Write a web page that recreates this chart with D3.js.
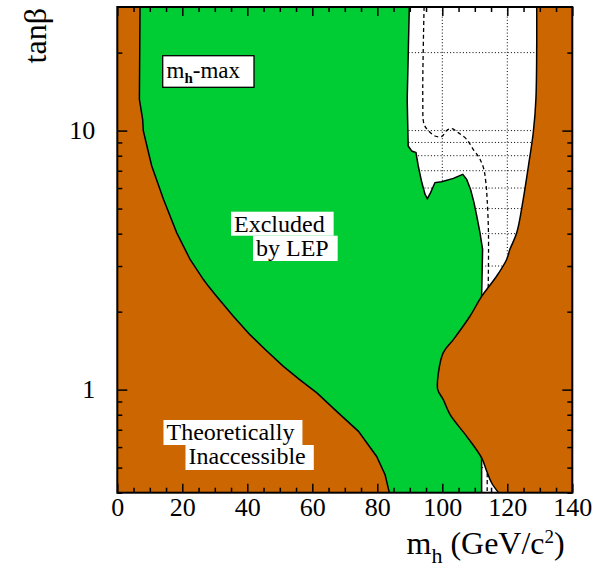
<!DOCTYPE html>
<html><head><meta charset="utf-8">
<script src="https://cdn.jsdelivr.net/npm/d3@7"></script>
<style>
body{margin:0;background:#fff}
svg{display:block}
text{font-family:"Liberation Serif","Times New Roman",serif;fill:#000}
</style>
</head><body>
<svg id="c" width="605" height="571"></svg>
<script>
// ---- data (mh in GeV/c^2, tanβ) ----
const xDomain = [0, 140];
const yDomain = [0.4, 30];
const xMajorTicks = [0, 20, 40, 60, 80, 100, 120, 140];
const xMinorTicks = [5, 10, 15, 25, 30, 35, 45, 50, 55, 65, 70, 75, 85, 90, 95, 105, 110, 115, 125, 130, 135];
const yMajorTicks = [1, 10];
const yMinorTicks = [0.4, 0.5, 0.6, 0.7, 0.8, 0.9, 2, 3, 4, 5, 6, 7, 8, 9, 20];
const xGrid = [20, 40, 60, 80, 100, 120];
const yGrid = [0.5, 0.6, 0.7, 0.8, 0.9, 1, 2, 3, 4, 5, 6, 7, 8, 9, 10, 20];

// theoretically inaccessible, low-mh boundary (top -> bottom)
const lowTheoryMh = [7.0, 6.8, 7.8, 8.0, 9.35, 10.6, 14.2, 18.3, 22.4, 26.5, 28.0, 30.6, 35.7, 40.8, 46.0, 51.1, 56.2, 61.4, 68.0, 74.2, 79.8, 82.4, 83.7];
const lowTheoryTb = [30, 13.2, 11.06, 10.0, 8.47, 7.30, 5.43, 4.03, 3.18, 2.66, 2.51, 2.29, 1.92, 1.63, 1.41, 1.23, 1.09, 0.971, 0.813, 0.690, 0.552, 0.469, 0.4];

// observed LEP exclusion edge (top -> bottom)
const observedMh = [89.85, 89.2, 89.5, 90.6, 91.9, 92.6, 93.7, 94.7, 95.4, 96.4, 97.75, 99.8, 103.4, 106.3, 107.5, 108.7, 109.75, 110.6, 111.6, 112.4, 112.1, 112.1];
const observedTb = [30, 13.2, 8.72, 8.34, 8.22, 7.30, 6.30, 5.67, 5.46, 5.76, 6.30, 6.35, 6.54, 6.78, 6.48, 5.93, 5.27, 4.68, 4.03, 3.48, 2.29, 0.4];

// theoretically inaccessible, high-mh boundary (top -> bottom)
const highTheoryMh = [129.05, 128.8, 128.0, 126.5, 124.9, 122.9, 120.8, 119.8, 116.7, 112.1, 108.5, 103.4, 100.3, 98.8, 98.6, 100.3, 102.4, 107.5, 112.1, 113.7, 115.2, 117.3];
const highTheoryTb = [30, 13.2, 9.85, 7.30, 5.43, 4.03, 3.48, 3.18, 2.74, 2.29, 1.92, 1.56, 1.39, 1.16, 1.0, 0.915, 0.80, 0.66, 0.545, 0.483, 0.436, 0.4];

// expected exclusion (dashed)
const expectedMh = [94.4, 94.0, 94.4, 95.7, 97.75, 99.8, 101.35, 102.9, 104.9, 107.5, 109.5, 111.6, 112.8, 113.4, 113.8, 114.2, 114.1, 113.8];
const expectedTb = [30, 13.2, 10.57, 10.0, 9.53, 9.48, 10.0, 10.18, 9.82, 9.25, 8.47, 7.75, 7.08, 6.30, 5.42, 4.04, 2.2, 0.4];

const zip = (a, b) => a.map((v, i) => [v, b[i]]);
const lowTheory = zip(lowTheoryMh, lowTheoryTb);
const observed = zip(observedMh, observedTb);
const highTheory = zip(highTheoryMh, highTheoryTb);
const expected = zip(expectedMh, expectedTb);

// ---- layout ----
const L = 117.3, R = 572.3, T = 7, B = 492.7;
const GREEN = "#00cc33", ORANGE = "#cc6600";

const svg = d3.select("#c");
const x = d3.scaleLinear().domain(xDomain).range([L, R]);
const y = d3.scaleLog().domain(yDomain).range([B, T]);
const line = d3.line().x(d => x(d[0])).y(d => y(d[1]));
const smooth = d3.line().x(d => x(d[0])).y(d => y(d[1])).curve(d3.curveCatmullRom.alpha(0.5));

svg.append("defs").append("clipPath").attr("id", "clip")
  .append("rect").attr("x", L).attr("y", T).attr("width", R - L).attr("height", B - T);

const g = svg.append("g").attr("clip-path", "url(#clip)");

// grid (dotted, lies under the fills)
g.selectAll(".vg").data(xGrid).join("line")
  .attr("x1", d => x(d)).attr("x2", d => x(d)).attr("y1", T).attr("y2", B)
  .attr("stroke", "#000").attr("stroke-width", 1).attr("stroke-dasharray", "1,2.2");
g.selectAll(".hg").data(yGrid).join("line")
  .attr("y1", d => y(d)).attr("y2", d => y(d)).attr("x1", L).attr("x2", R)
  .attr("stroke", "#000").attr("stroke-width", 1).attr("stroke-dasharray", "1,2.2");

// expected limit (dashed)
g.append("path").attr("d", smooth(expected)).attr("fill", "none")
  .attr("stroke", "#000").attr("stroke-width", 1.3).attr("stroke-dasharray", "4,3");

// green excluded region
const greenPoly = lowTheory.concat(observed.slice().reverse());
g.append("path").attr("d", line(greenPoly) + "Z").attr("fill", GREEN).attr("stroke", "none");
g.append("path").attr("d", line(observed)).attr("fill", "none").attr("stroke", "#000").attr("stroke-width", 1.5);

// orange theoretically inaccessible regions
const leftPoly = [[xDomain[0], yDomain[1]]].concat(lowTheory, [[xDomain[0], yDomain[0]]]);
g.append("path").attr("d", line(leftPoly) + "Z").attr("fill", ORANGE);
g.append("path").attr("d", line(lowTheory)).attr("fill", "none").attr("stroke", "#000").attr("stroke-width", 1.5);

const highPath = smooth(highTheory);
g.append("path").attr("d", highPath + `L${x(xDomain[1])},${y(yDomain[0])}L${x(xDomain[1])},${y(yDomain[1])}Z`).attr("fill", ORANGE);
g.append("path").attr("d", highPath).attr("fill", "none").attr("stroke", "#000").attr("stroke-width", 1.5);

// ---- axes ----
function styleAxis(sel) {
  sel.select(".domain").remove();
  sel.selectAll(".tick line").attr("stroke", "#000").attr("stroke-width", 1.5);
  sel.selectAll(".tick text").style("font-family", '"Liberation Serif", serif').style("font-size", "26px").attr("fill", "#000");
}
svg.append("g").attr("transform", `translate(0,${B})`)
  .call(d3.axisBottom(x).tickValues(xMajorTicks).tickSizeInner(-9).tickSizeOuter(0).tickPadding(5).tickFormat(d3.format("d")))
  .call(styleAxis);
svg.append("g").attr("transform", `translate(0,${B})`)
  .call(d3.axisBottom(x).tickValues(xMinorTicks).tickSizeInner(-5).tickSizeOuter(0).tickFormat(""))
  .call(styleAxis);
svg.append("g").attr("transform", `translate(0,${T})`)
  .call(d3.axisTop(x).tickValues(xMajorTicks).tickSizeInner(-9).tickSizeOuter(0).tickFormat(""))
  .call(styleAxis);
svg.append("g").attr("transform", `translate(0,${T})`)
  .call(d3.axisTop(x).tickValues(xMinorTicks).tickSizeInner(-5).tickSizeOuter(0).tickFormat(""))
  .call(styleAxis);
svg.append("g").attr("transform", `translate(${L},0)`)
  .call(d3.axisLeft(y).tickValues(yMajorTicks).tickSizeInner(-10).tickSizeOuter(0).tickPadding(22).tickFormat(d3.format("d")))
  .call(styleAxis);
svg.append("g").attr("transform", `translate(${L},0)`)
  .call(d3.axisLeft(y).tickValues(yMinorTicks).tickSizeInner(-5).tickSizeOuter(0).tickFormat(""))
  .call(styleAxis);
svg.append("g").attr("transform", `translate(${R},0)`)
  .call(d3.axisRight(y).tickValues(yMajorTicks).tickSizeInner(-10).tickSizeOuter(0).tickFormat(""))
  .call(styleAxis);
svg.append("g").attr("transform", `translate(${R},0)`)
  .call(d3.axisRight(y).tickValues(yMinorTicks).tickSizeInner(-5).tickSizeOuter(0).tickFormat(""))
  .call(styleAxis);

// frame
svg.append("rect").attr("x", L).attr("y", T).attr("width", R - L).attr("height", B - T)
  .attr("fill", "none").attr("stroke", "#000").attr("stroke-width", 2);

// ---- axis titles ----
const xt = svg.append("text").attr("x", 406.5).attr("y", 554).attr("text-anchor", "start").style("font-size", "32px");
xt.append("tspan").text("m");
xt.append("tspan").attr("dy", 9).style("font-size", "22px").text("h");
xt.append("tspan").attr("dy", -9).text(" (GeV/c");
xt.append("tspan").attr("dy", -11).style("font-size", "19px").text("2");
xt.append("tspan").attr("dy", 11).text(")");

svg.append("text").attr("transform", "translate(46,8) rotate(-90)").attr("text-anchor", "end")
  .style("font-size", "32px").text("tanβ");

// ---- annotations ----
function boxedLine(tx, ty, text, y0, y1, padL, padR) {
  const t = svg.append("text").attr("x", tx).attr("y", ty).style("font-size", "24px").text(text);
  const bb = t.node().getBBox();
  svg.insert("rect", () => t.node()).attr("x", bb.x - padL).attr("y", y0)
    .attr("width", bb.width + padL + padR).attr("height", y1 - y0).attr("fill", "#fff");
}
boxedLine(234, 231.5, "Excluded", 211.7, 235.7, 3, 9);
boxedLine(256, 255.5, "by LEP", 235.7, 261, 3, 9);
boxedLine(166.5, 440, "Theoretically", 420, 445, 3, 8);
boxedLine(188.5, 463.5, "Inaccessible", 445, 470, 3, 8);

// mh-max box
svg.append("rect").attr("x", 162.7).attr("y", 55.7).attr("width", 91.3).attr("height", 31.6)
  .attr("fill", "#fff").attr("stroke", "#000").attr("stroke-width", 1.3);
const mt = svg.append("text").attr("x", 166.5).attr("y", 77.5).style("font-size", "23px");
mt.append("tspan").text("m");
mt.append("tspan").attr("dy", 5).style("font-size", "15px").style("font-weight", "bold").text("h");
mt.append("tspan").attr("dy", -5).text("-max");
</script>
</body></html>
